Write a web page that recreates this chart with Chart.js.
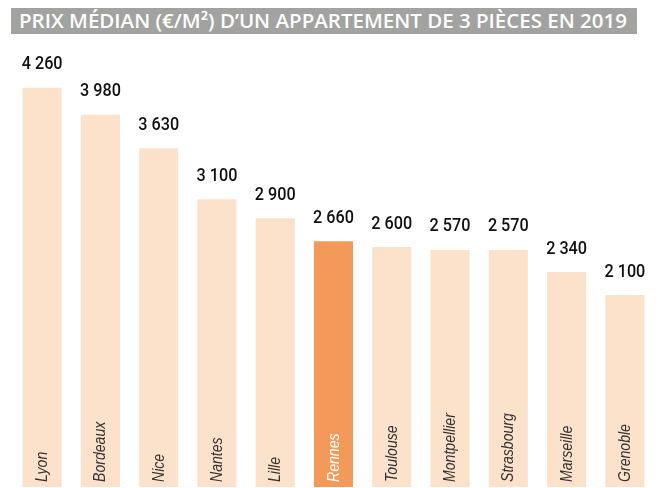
<!DOCTYPE html>
<html>
<head>
<meta charset="utf-8">
<script src="https://cdn.jsdelivr.net/npm/chart.js@4"></script>
<style>
  html, body { margin: 0; padding: 0; background: #fff; width: 666px; height: 488px; overflow: hidden; }
  #wrap { position: relative; width: 666px; height: 488px; }
  #title { position: absolute; left: 11px; top: 8px; width: 626px; height: 26px; background: #a2a2a1; overflow: hidden; }
  #title span { position: absolute; left: 8px; top: 0px; line-height: 26px; white-space: nowrap; color: #fff;
    font-family: "Open Sans", "DejaVu Sans Condensed", sans-serif; font-weight: 600; font-size: 20px; transform-origin: 0 50%; }
  canvas { position: absolute; left: 0; top: 0; }
</style>
</head>
<body>
<div id="wrap">
  <canvas id="c" width="666" height="488"></canvas>
  <div id="title"><span id="tt">PRIX MÉDIAN (€/M²) D’UN APPARTEMENT DE 3 PIÈCES EN 2019</span></div>
</div>
<script>
const cities = ["Lyon", "Bordeaux", "Nice", "Nantes", "Lille", "Rennes", "Toulouse", "Montpellier", "Strasbourg", "Marseille", "Grenoble"];
const prices = [4260, 3980, 3630, 3100, 2900, 2660, 2600, 2570, 2570, 2340, 2100];
const priceLabels = ["4 260", "3 980", "3 630", "3 100", "2 900", "2 660", "2 600", "2 570", "2 570", "2 340", "2 100"];
const highlight = "Rennes";

// fit title text width
(function () {
  const s = document.getElementById('tt');
  const w = s.getBoundingClientRect().width;
  s.style.transform = 'scaleX(' + (608 / w) + ')';
})();

const barColors = cities.map(c => c === highlight ? '#f39a5b' : '#fce1cb');

const labelPlugin = {
  id: 'barLabels',
  afterDatasetsDraw(chart) {
    const ctx = chart.ctx;
    const meta = chart.getDatasetMeta(0);
    const xs = chart.scales.x;
    ctx.save();
    meta.data.forEach((bar, i) => {
      const x = xs.getPixelForValue(i);
      // value label above bar
      ctx.save();
      ctx.translate(x, bar.y - 18.5);
      ctx.scale(0.9, 1);
      ctx.fillStyle = '#111';
      ctx.font = '500 18px Roboto, "Liberation Sans", sans-serif';
      ctx.textAlign = 'center';
      ctx.textBaseline = 'alphabetic';
      ctx.fillText(priceLabels[i], 0, 0);
      ctx.restore();
      // rotated city label inside bar
      ctx.save();
      ctx.translate(x + 5, 482);
      ctx.rotate(-Math.PI / 2);
      ctx.scale(0.88, 1);
      ctx.fillStyle = cities[i] === highlight ? '#ffffff' : '#333333';
      ctx.font = 'italic 16px "Liberation Sans", Arial, sans-serif';
      ctx.textAlign = 'left';
      ctx.textBaseline = 'alphabetic';
      ctx.fillText(cities[i], 0, 0);
      ctx.restore();
    });
    ctx.restore();
  }
};

new Chart(document.getElementById('c'), {
  type: 'bar',
  data: {
    labels: cities,
    datasets: [{
      data: prices,
      backgroundColor: barColors,
      borderWidth: 0,
      categoryPercentage: 1,
      barPercentage: 0.67
    }]
  },
  options: {
    responsive: false,
    animation: false,
    layout: { padding: { left: 13, right: 12, top: 36, bottom: 1 } },
    plugins: { legend: { display: false }, tooltip: { enabled: false }, title: { display: false } },
    scales: {
      x: { display: false },
      y: { display: false, min: 100, max: 4800 }
    }
  },
  plugins: [labelPlugin]
});
</script>
</body>
</html>
